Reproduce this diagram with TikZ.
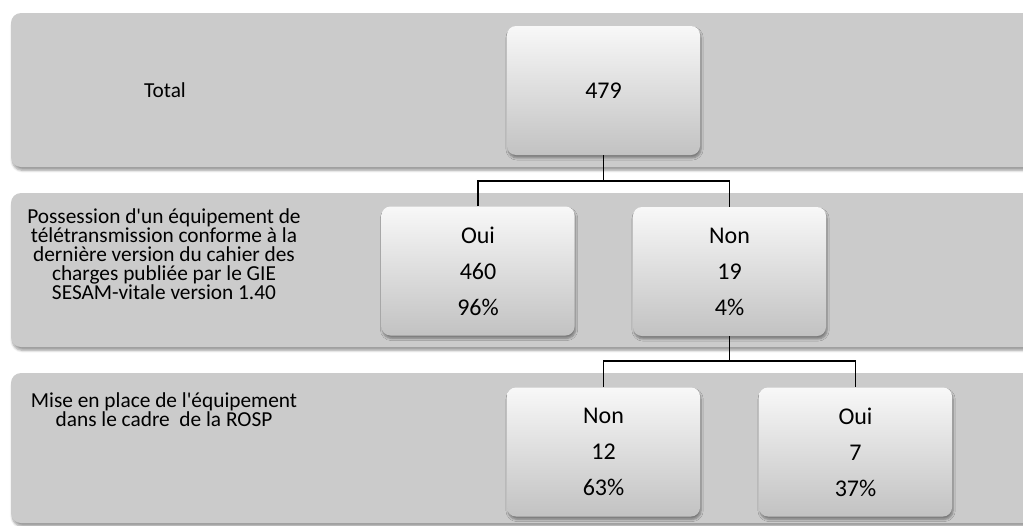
\documentclass[tikz,border=0pt]{standalone}
\usepackage{fontspec}
\setmainfont{Carlito}
\usetikzlibrary{shadows.blur}
\definecolor{bandgray}{RGB}{203,203,203}
\definecolor{boxtop}{RGB}{248,248,248}
\definecolor{boxbot}{RGB}{194,194,194}
\tikzset{
  band/.style={fill=bandgray, rounded corners=7.5pt,
    blur shadow={shadow xshift=1pt, shadow yshift=-2.5pt, shadow blur steps=6, shadow blur radius=1.8pt, shadow opacity=40}},
  databox/.style={rectangle, rounded corners=6.75pt, minimum width=144.75pt, minimum height=96.75pt,
    top color=boxtop, bottom color=boxbot, draw=none, align=center, inner sep=0pt,
    font=\fontsize{18}{27}\selectfont,
    blur shadow={shadow xshift=0.8pt, shadow yshift=-2.2pt, shadow blur steps=6, shadow blur radius=1.6pt, shadow opacity=40}},
  rowlabel/.style={align=center, font=\fontsize{16}{14.2}\selectfont, inner sep=0pt},
  conn/.style={line width=1.2pt, black}
}
\begin{document}
\begin{tikzpicture}[x=0.75pt,y=-0.75pt]
\useasboundingbox (0,0) rectangle (1023,525);
% background bands
\path[band] (11,13) rectangle (1045,167);
\path[band] (11,193) rectangle (1045,347);
\path[band] (11,373) rectangle (1045,523);
% row labels
\node[rowlabel] (lab1) at (165,90) {Total};
\node[rowlabel] (lab2) at (164,254) {Possession d\textquotesingle un équipement de\\télétransmission conforme à la\\dernière version du cahier des\\charges publiée par le GIE\\SESAM-vitale version 1.40};
\node[rowlabel] (lab3) at (164,410) {Mise en place de l\textquotesingle équipement\\dans le cadre\ \ de la ROSP};
% boxes
\node[databox] (tot) at (603.5,90.5) {479};
\node[databox] (oui1) at (478,271) {Oui\\460\\96\%};
\node[databox] (non1) at (729.5,271.5) {Non\\19\\4\%};
\node[databox] (non2) at (603.5,452) {Non\\12\\63\%};
\node[databox] (oui2) at (855.5,452) {Oui\\7\\37\%};
% connectors
\coordinate (j1) at (603.5,181);
\coordinate (j2) at (729.5,361);
\draw[conn] (tot.south) -- (j1);
\draw[conn] (oui1.north) |- (j1) -| (non1.north);
\draw[conn] (non1.south) -- (j2);
\draw[conn] (non2.north) |- (j2) -| (oui2.north);
\end{tikzpicture}
\end{document}
